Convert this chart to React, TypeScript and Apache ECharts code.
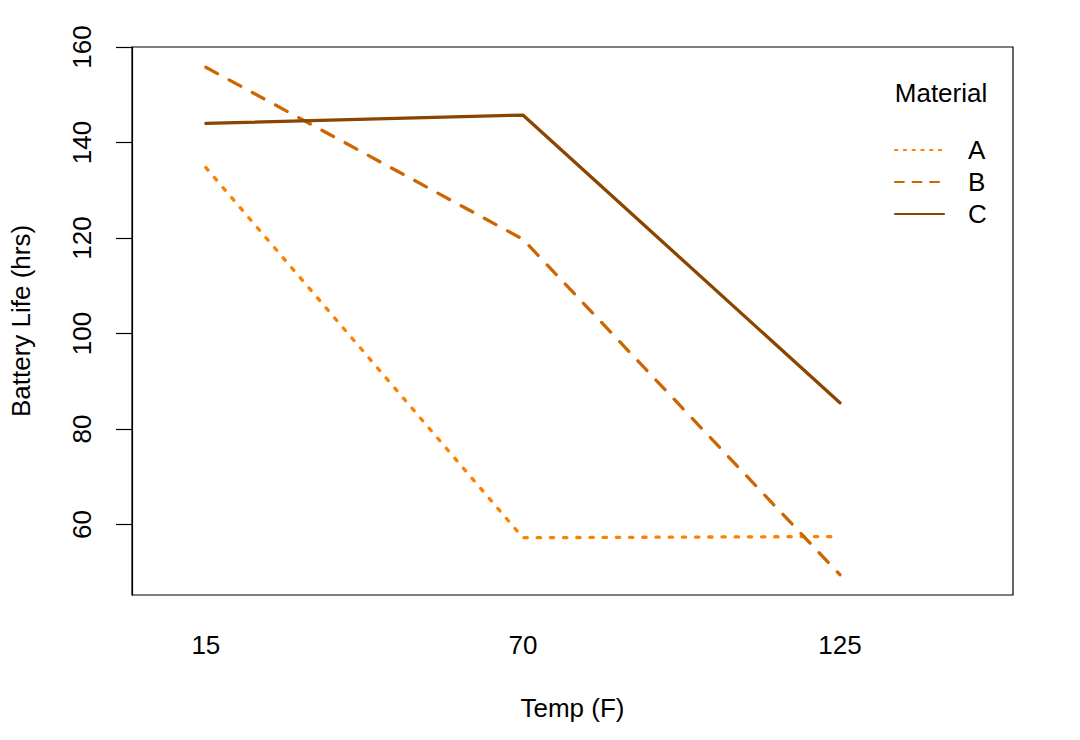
import React, { useEffect, useRef } from "react";
import * as echarts from "echarts";

const temps = ["15", "70", "125"];
const materials = ["A", "B", "C"];
const lifeA = [134.75, 57.25, 57.5];
const lifeB = [155.75, 119.75, 49.5];
const lifeC = [144, 145.75, 85.5];
const yTicks = [60, 80, 100, 120, 140, 160];

const colors = ["#FF7F00", "#CD6600", "#8B4500"];
const FONT = "Liberation Sans, Arial, Helvetica, sans-serif";
const FS = 26;

export default function App() {
  const ref = useRef<HTMLDivElement>(null);
  useEffect(() => {
    if (!ref.current) return;
    document.body.style.margin = "0";
    const chart = echarts.init(ref.current, null, { renderer: "svg" });
    const toData = (arr: number[]) => arr.map((v, i) => [i + 1, v]);
    const lineW = 3.3;
    const dashes: any[] = [
      [lineW, lineW * 3],
      [lineW * 4, lineW * 4],
      "solid",
    ];
    const series = [lifeA, lifeB, lifeC].map((arr, i) => ({
      type: "line",
      name: materials[i],
      data: toData(arr),
      symbol: "none",
      lineStyle: {
        color: colors[i],
        width: lineW,
        type: dashes[i],
        cap: "round",
        join: "round",
      },
    }));
    const legW = 2.2;
    const legDashes: any[] = [
      [legW, legW * 3],
      [legW * 4, legW * 4],
      null,
    ];
    const legendY = [150, 182, 214];
    const graphic: any[] = [
      {
        type: "text",
        x: 941,
        y: 93,
        style: {
          text: "Material",
          fill: "#000",
          font: `${FS}px ${FONT}`,
          align: "center",
          verticalAlign: "middle",
        },
      },
    ];
    materials.forEach((m, i) => {
      graphic.push({
        type: "line",
        shape: { x1: 895, y1: legendY[i], x2: 944, y2: legendY[i] },
        style: {
          stroke: colors[i],
          lineWidth: legW,
          lineDash: legDashes[i],
          lineCap: "round",
        },
      });
      graphic.push({
        type: "text",
        x: 968,
        y: legendY[i],
        style: {
          text: m,
          fill: "#000",
          font: `${FS}px ${FONT}`,
          verticalAlign: "middle",
          align: "left",
        },
      });
    });
    chart.setOption({
      animation: false,
      backgroundColor: "#fff",
      textStyle: { fontFamily: FONT },
      grid: {
        left: 132,
        top: 47,
        right: 67,
        bottom: 145,
        show: true,
        borderColor: "#000",
        borderWidth: 1.2,
        backgroundColor: "transparent",
      },
      xAxis: {
        type: "value",
        min: 0.767,
        max: 3.546,
        splitLine: { show: false },
        axisLine: { show: false },
        axisTick: { show: false },
        axisLabel: {
          customValues: [1, 2, 3],
          formatter: (v: number) => temps[Math.round(v) - 1] ?? "",
          fontSize: FS,
          color: "#000",
          fontFamily: FONT,
          margin: 37,
        },
        name: "Temp (F)",
        nameLocation: "middle",
        nameGap: 100,
        nameTextStyle: { fontSize: FS, color: "#000", fontFamily: FONT },
      },
      yAxis: {
        type: "value",
        min: 45.25,
        max: 160,
        splitLine: { show: false },
        axisLine: { show: true, lineStyle: { color: "#000", width: 1.2 } },
        axisTick: {
          show: true,
          customValues: yTicks,
          length: 16,
          lineStyle: { color: "#000", width: 1.2 },
        },
        axisLabel: {
          customValues: yTicks,
          rotate: 90,
          fontSize: FS,
          color: "#000",
          fontFamily: FONT,
          margin: 37,
        },
        name: "Battery Life (hrs)",
        nameLocation: "middle",
        nameRotate: 90,
        nameGap: 98,
        nameTextStyle: { fontSize: FS, color: "#000", fontFamily: FONT },
      },
      series,
      graphic,
    });
    return () => chart.dispose();
  }, []);
  return <div ref={ref} style={{ width: 1080, height: 740 }} />;
}
